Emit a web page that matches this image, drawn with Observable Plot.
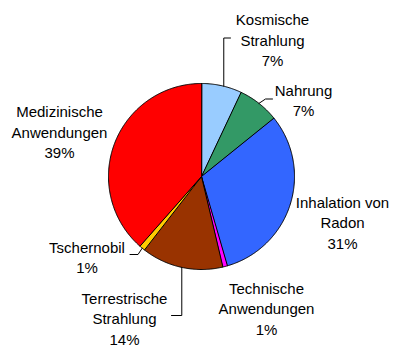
<!DOCTYPE html>
<html>
<head>
<meta charset="utf-8">
<script src="https://cdn.jsdelivr.net/npm/d3@7"></script>
<script src="https://cdn.jsdelivr.net/npm/@observablehq/plot@0.6"></script>
<style>
  html, body { margin: 0; padding: 0; background: #fff; }
  #chart svg { display: block; }
</style>
</head>
<body>
<div id="chart"></div>
<script>
// ---- data ----
const names = ["Kosmische\nStrahlung", "Nahrung", "Inhalation von\nRadon", "Technische\nAnwendungen", "Terrestrische\nStrahlung", "Tschernobil", "Medizinische\nAnwendungen"];
const shares = [7.0, 7.2, 31.3, 0.8, 14.2, 1.0, 38.5];
const colors = ["#99CCFF", "#339966", "#3366FF", "#FF00FF", "#993300", "#FFCC00", "#FF0000"];

// ---- layout (pixels) ----
const W = 399, H = 356;
const cx = 201, cy = 176, R = 93;
const labelPos = [[272, 38.5], [303, 99], [342, 221], [266, 307], [124, 317], [86.5, 256], [59, 130.5]];
// leader: fraction within slice where the line leaves the pie edge, then elbows
const leaderSpec = {
  0: {f: 0.55, elbows: (m) => [[m[0], 37.5], [230, 37.5]]},
  1: {f: 0.5, elbows: (m) => [[265, 98.5], [272, 98.5]]},
  4: {f: 0.5, elbows: (m) => [[m[0], 315], [171, 315]]},
  5: {f: 0.5, elbows: (m) => [[137.5, 254], [129.5, 254]]}
};

const total = d3.sum(shares);
const pie = d3.pie().sort(null).value(d => d)(shares);
const pt = (a, r) => [cx + r * Math.sin(a), cy - r * Math.cos(a)];

const polys = [];
pie.forEach((p, i) => {
  const n = Math.max(2, Math.ceil((p.endAngle - p.startAngle) / 0.01));
  polys.push({i, x: cx, y: cy});
  for (let k = 0; k <= n; k++) {
    const a = p.startAngle + (p.endAngle - p.startAngle) * k / n;
    const [x, y] = pt(a, R);
    polys.push({i, x, y});
  }
});

const leaders = [];
pie.forEach((p, i) => {
  const s = leaderSpec[i];
  if (!s) return;
  const m = pt(p.startAngle + (p.endAngle - p.startAngle) * s.f, R);
  [m, ...s.elbows(m)].forEach(([x, y]) => leaders.push({i, x, y}));
});

const labels = names.map((nm, i) => ({
  text: nm + "\n" + Math.round(shares[i] / total * 100) + "%",
  x: labelPos[i][0], y: labelPos[i][1]
}));

const chart = Plot.plot({
  width: W, height: H,
  margin: 0,
  x: {domain: [0, W], range: [0, W], axis: null},
  y: {domain: [0, H], range: [0, H], axis: null},
  style: {fontFamily: "Arial, 'Liberation Sans', sans-serif", background: "#fff"},
  marks: [
    Plot.line(polys, {x: "x", y: "y", z: "i", fill: d => colors[d.i], stroke: "#000", strokeWidth: 1, curve: "linear-closed", strokeLinejoin: "round"}),
    Plot.line(leaders, {x: "x", y: "y", z: "i", stroke: "#000", strokeWidth: 1}),
    Plot.text(labels, {x: "x", y: "y", text: "text", fontSize: 15, lineHeight: 1.37, textAnchor: "middle", lineAnchor: "middle", fill: "#000"})
  ]
});
document.getElementById("chart").appendChild(chart);
</script>
</body>
</html>
